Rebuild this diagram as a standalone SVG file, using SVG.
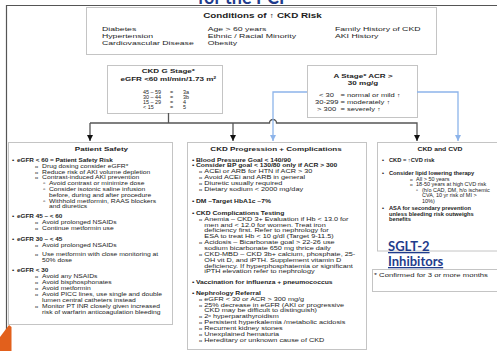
<svg xmlns="http://www.w3.org/2000/svg" width="497" height="351" viewBox="0 0 497 351">
<defs>
<style>
.box{fill:#fff;stroke:#c4c4c4;stroke-width:1}
.t{font-family:"Liberation Sans",Arial,sans-serif;fill:#1c1c1c}
.b{font-weight:bold}
.o{font-size:4.3px}
.blue{font-family:Lato,"Liberation Sans",Arial,sans-serif;font-weight:bold;fill:#1f3c8c}
.ln{fill:none;stroke:#555;stroke-width:1.3}
.bl{fill:none;stroke:#8db4ea;stroke-width:1.3}
</style>
<marker id="ak" viewBox="0 0 10 10" refX="10" refY="5" markerWidth="6" markerHeight="6" markerUnits="userSpaceOnUse" orient="auto"><path d="M0,0 L10,5 L0,10 z" fill="#111"/></marker>
<marker id="ab" viewBox="0 0 10 10" refX="10" refY="5" markerWidth="6" markerHeight="6" markerUnits="userSpaceOnUse" orient="auto"><path d="M0,0 L10,5 L0,10 z" fill="#8db4ea"/></marker>
</defs>
<rect width="497" height="351" fill="#fff"/>

<path d="M6.5,330 V5.5 H497" fill="none" stroke="#555" stroke-width="1.2"/>
<polygon points="9,325 11.5,327 11.5,351 0,351 0,337" fill="#e2601c"/>
<text class="blue" x="244" y="4" font-size="18" text-anchor="middle">for the PCP</text>

<g id="conditions">
<rect class="box" x="86.5" y="7.5" width="350" height="47"/>
<g class="t" transform="translate(86,0) scale(1.45,1)" font-size="6">
<text class="b" x="121.7" y="17.8" text-anchor="middle" font-size="6.8">Conditions of ↑ CKD Risk</text>
<text x="11" y="31.4">Diabetes</text>
<text x="11" y="38.1">Hypertension</text>
<text x="11" y="45.4">Cardiovascular Disease</text>
<text x="83.9" y="31.4">Age &gt; 60 years</text>
<text x="83.9" y="38.1">Ethnic / Racial Minority</text>
<text x="83.9" y="45.4">Obesity</text>
<text x="171.7" y="31.4">Family History of CKD</text>
<text x="171.7" y="38.1">AKI History</text>
</g>
</g>

<g id="g-stage">
<rect class="box" x="107.5" y="65.5" width="115" height="48"/>
<g class="t b" transform="translate(107,0) scale(1.3,1)" font-size="6.2">
<text x="47.2" y="73.4" text-anchor="middle">CKD G Stage*</text>
<text x="47.2" y="81.5" text-anchor="middle">eGFR &lt;60 ml/min/1.73 m<tspan font-size="4" dy="-2">2</tspan></text>
</g>
<g class="t" font-size="5.4">
<text x="143" y="93.5">45 – 59</text><text x="170" y="93.5">=</text><text x="183" y="93.5">3a</text>
<text x="143" y="98.6">30 – 44</text><text x="170" y="98.6">=</text><text x="183" y="98.6">3b</text>
<text x="143" y="103.7">15 – 29</text><text x="170" y="103.7">=</text><text x="183" y="103.7">4</text>
<text x="143" y="109">&lt; 15</text><text x="170" y="109">=</text><text x="183" y="109">5</text>
</g>
</g>

<g id="a-stage">
<rect class="box" x="307.5" y="65.5" width="110" height="52"/>
<g class="t b" transform="translate(307,0) scale(1.3,1)" font-size="6.2">
<text x="43.1" y="78" text-anchor="middle">A Stage* ACR &gt;</text>
<text x="43.1" y="84.8" text-anchor="middle">30 mg/g</text>
</g>
<g class="t" transform="translate(315,0) scale(1.4,1)" font-size="5.4">
<text x="2.9" y="96.9">&lt; 30</text><text x="18.2" y="96.9">= normal or mild ↑</text>
<text x="0" y="104.2">30-299 = moderately ↑</text>
<text x="1.5" y="110.9">&gt; 300</text><text x="18.2" y="110.9">= severely ↑</text>
</g>
</g>

<g id="connectors">
<path class="ln" d="M168.5,113 V123"/>
<path class="ln" d="M90,123 H269.5 A3.5,3.5 0 0 1 276.5,123 H417 V141" marker-end="url(#ak)"/>
<path class="ln" d="M90,123 V141" marker-end="url(#ak)"/>
<path class="ln" d="M233,123 V141" marker-end="url(#ak)"/>
<path class="bl" d="M307,92 H273 V141" marker-end="url(#ab)"/>
<path class="bl" d="M417,92 H458 V141" marker-end="url(#ab)"/>
</g>

<g id="patient-safety">
<rect class="box" x="8.5" y="142.5" width="164" height="182"/>
<g class="t" transform="translate(8,0) scale(1.3,1)" font-size="5.2">
<text class="b" x="71.9" y="151.3" text-anchor="middle" font-size="6.2">Patient Safety</text>
<text class="b" y="161.8" font-size="4.9"><tspan x="3.1">•</tspan><tspan x="6.9">eGFR &lt; 60 = Patient Safety Risk</tspan></text>
<text y="167.8"><tspan class="o" x="20.8">o</tspan><tspan x="26.2">Drug dosing consider eGFR*</tspan></text>
<text y="173.6"><tspan class="o" x="20.8">o</tspan><tspan x="26.2">Reduce risk of AKI volume depletion</tspan></text>
<text y="179.4"><tspan class="o" x="20.8">o</tspan><tspan x="26.2">Contrast-induced  AKI prevention</tspan></text>
<text y="185"><tspan x="26.9">▫</tspan><tspan x="31.5">Avoid contrast or minimize dose</tspan></text>
<text y="190.8"><tspan x="26.9">▫</tspan><tspan x="31.5">Consider isotonic saline infusion</tspan></text>
<text x="31.5" y="196.6">before, during and after procedure</text>
<text y="202.6"><tspan x="26.9">▫</tspan><tspan x="31.5">Withhold metformin, RAAS blockers</tspan></text>
<text x="31.5" y="208.4">and diuretics</text>
<text class="b" y="218.5" font-size="4.9"><tspan x="3.1">•</tspan><tspan x="6.9">eGFR 45 – &lt; 60</tspan></text>
<text y="224.4"><tspan class="o" x="20.8">o</tspan><tspan x="26.2">Avoid prolonged NSAIDs</tspan></text>
<text y="230.1"><tspan class="o" x="20.8">o</tspan><tspan x="26.2">Continue metformin use</tspan></text>
<text class="b" y="241" font-size="4.9"><tspan x="3.1">•</tspan><tspan x="6.9">eGFR 30 – &lt; 45</tspan></text>
<text y="247.2"><tspan class="o" x="20.8">o</tspan><tspan x="26.2">Avoid prolonged NSAIDs</tspan></text>
<text y="255.8"><tspan class="o" x="20.8">o</tspan><tspan x="26.2">Use metformin with close monitoring at</tspan></text>
<text x="26.2" y="261.7">50% dose</text>
<text class="b" y="271.8" font-size="4.9"><tspan x="3.1">•</tspan><tspan x="6.9">eGFR &lt; 30</tspan></text>
<text y="278.4"><tspan class="o" x="20.8">o</tspan><tspan x="26.2">Avoid any NSAIDs</tspan></text>
<text y="284.4"><tspan class="o" x="20.8">o</tspan><tspan x="26.2">Avoid bisphosphonates</tspan></text>
<text y="290.1"><tspan class="o" x="20.8">o</tspan><tspan x="26.2">Avoid metformin</tspan></text>
<text y="296"><tspan class="o" x="20.8">o</tspan><tspan x="26.2">Avoid PICC lines, use single and double</tspan></text>
<text x="26.2" y="301.8">lumen central catheters instead</text>
<text y="308.4"><tspan class="o" x="20.8">o</tspan><tspan x="26.2">Monitor PT INR closely given increased</tspan></text>
<text x="26.2" y="314.1">risk of warfarin anticoagulation bleeding</text>
</g>
</g>

<g id="ckd-progression">
<rect class="box" x="187.5" y="142.5" width="179" height="207"/>
<g class="t" transform="translate(187,0) scale(1.3,1)" font-size="5.6">
<text class="b" x="68.5" y="151.3" text-anchor="middle" font-size="6.2">CKD Progression  + Complications</text>
<text class="b" y="161.8" font-size="5.2"><tspan x="3.8">•</tspan><tspan x="6.9">Blood Pressure Goal &lt; 140/90</tspan></text>
<text class="b" y="167.5" font-size="5.2"><tspan x="3.8">•</tspan><tspan x="6.9">Consider BP goal &lt; 130/80 only if ACR &gt; 300</tspan></text>
<text y="173.5"><tspan class="o" x="9.2">o</tspan><tspan x="13.3">ACEi or ARB for HTN if ACR &gt; 30</tspan></text>
<text y="179.2"><tspan class="o" x="9.2">o</tspan><tspan x="13.3">Avoid ACEi and ARB in general</tspan></text>
<text y="185"><tspan class="o" x="9.2">o</tspan><tspan x="13.3">Diuretic usually required</tspan></text>
<text y="190.8"><tspan class="o" x="9.2">o</tspan><tspan x="13.3">Dietary sodium &lt; 2000 mg/day</tspan></text>
<text class="b" y="203.5" font-size="5.2"><tspan x="3.8">•</tspan><tspan x="6.9">DM –Target HbA1c ~7%</tspan></text>
<text class="b" y="214.8" font-size="5.2"><tspan x="3.8">•</tspan><tspan x="6.9">CKD Complications  Testing</tspan></text>
<text y="220.8"><tspan class="o" x="9.2">o</tspan><tspan x="13.3">Anemia – CKD 3+ Evaluation if Hb &lt; 13.0 for</tspan></text>
<text x="13.3" y="226.7">men and &lt; 12.0 for women.  Treat iron</text>
<text x="13.3" y="232.5">deficiency first. Refer to nephrology for</text>
<text x="13.3" y="238.4">ESA to treat Hb &lt; 10 g/dl (Target 9-11.5)</text>
<text y="244.4"><tspan class="o" x="9.2">o</tspan><tspan x="13.3">Acidosis – Bicarbonate goal &gt; 22-26  use</tspan></text>
<text x="13.3" y="250.1">sodium bicarbonate 650 mg thrice daily</text>
<text y="256.1"><tspan class="o" x="9.2">o</tspan><tspan x="13.3">CKD-MBD – CKD 3b+ calcium, phosphate, 25-</tspan></text>
<text x="13.3" y="261.8">OH vit D, and iPTH. Supplement vitamin D</text>
<text x="13.3" y="267.7">deficiency. If hyperphosphatemia  or significant</text>
<text x="13.3" y="273.5">iPTH elevation refer to nephrology</text>
<text class="b" y="284.1" font-size="5.2"><tspan x="3.8">•</tspan><tspan x="6.9">Vaccination for influenza + pneumococcus</tspan></text>
<text class="b" y="295.1" font-size="5.2"><tspan x="3.8">•</tspan><tspan x="6.9">Nephrology Referral</tspan></text>
<text y="301.1"><tspan class="o" x="9.2">o</tspan><tspan x="13.3">eGFR &lt; 30 or ACR &gt; 300 mg/g</tspan></text>
<text y="306.8"><tspan class="o" x="9.2">o</tspan><tspan x="13.3">25% decrease in eGFR (AKI or progressive</tspan></text>
<text x="13.3" y="312.5">CKD may be difficult to distinguish)</text>
<text y="318.5"><tspan class="o" x="9.2">o</tspan><tspan x="13.3">2<tspan font-size="3.6" dy="-1.8">o</tspan><tspan dy="1.8"> hyperparathyroidism</tspan></tspan></text>
<text y="324.4"><tspan class="o" x="9.2">o</tspan><tspan x="13.3">Persistent hyperkalemia /metabolic acidosis</tspan></text>
<text y="330.1"><tspan class="o" x="9.2">o</tspan><tspan x="13.3">Recurrent kidney stones</tspan></text>
<text y="335.9"><tspan class="o" x="9.2">o</tspan><tspan x="13.3">Unexplained hematuria</tspan></text>
<text y="341.8"><tspan class="o" x="9.2">o</tspan><tspan x="13.3">Hereditary or unknown cause of CKD</tspan></text>
</g>
</g>

<g id="ckd-cvd">
<rect class="box" x="377.5" y="142.5" width="125" height="108.5"/>
<g class="t" transform="translate(377,0) scale(1.1,1)" font-size="5">
<text class="b" x="57.3" y="151.3" text-anchor="middle" font-size="6.2">CKD and CVD</text>
<text class="b" y="161.8" font-size="5.2"><tspan x="4.5">•</tspan><tspan x="10.9">CKD = ↑CVD risk</tspan></text>
<text class="b" y="175.1" font-size="5.2"><tspan x="4.5">•</tspan><tspan x="10.9">Consider lipid lowering therapy</tspan></text>
<text y="180.8"><tspan class="o" x="30">o</tspan><tspan x="35.5">All &gt; 50 years</tspan></text>
<text y="186.2"><tspan class="o" x="30">o</tspan><tspan x="35.5">18-50 years at high CVD risk</tspan></text>
<text y="191.9"><tspan x="35.5">▫</tspan><tspan x="40.9">(h/o CAD, DM, h/o ischemic</tspan></text>
<text x="40.9" y="197.5">CVA, 10 yr risk of MI &gt;</text>
<text x="40.9" y="202.9">10%)</text>
<text class="b" y="210.2" font-size="5.2"><tspan x="4.5">•</tspan><tspan x="10.9">ASA for secondary prevention</tspan></text>
<text class="b" x="10.9" y="215.6" font-size="5.2">unless bleeding risk outweighs</text>
<text class="b" x="10.9" y="221" font-size="5.2">benefits</text>
</g>
</g>

<g id="sglt2">
<text class="blue" x="388" y="251" font-size="13" text-decoration="underline">SGLT-2</text>
<text class="blue" x="388" y="266" font-size="13" text-decoration="underline">Inhibitors</text>
</g>

<g id="footnote">
<rect class="box" x="372.5" y="269.5" width="130" height="22"/>
<g class="t" transform="translate(374,0) scale(1.45,1)" font-size="5.3">
<text x="0" y="277">* Confirmed for 3 or more months</text>
</g>
</g>
</svg>
